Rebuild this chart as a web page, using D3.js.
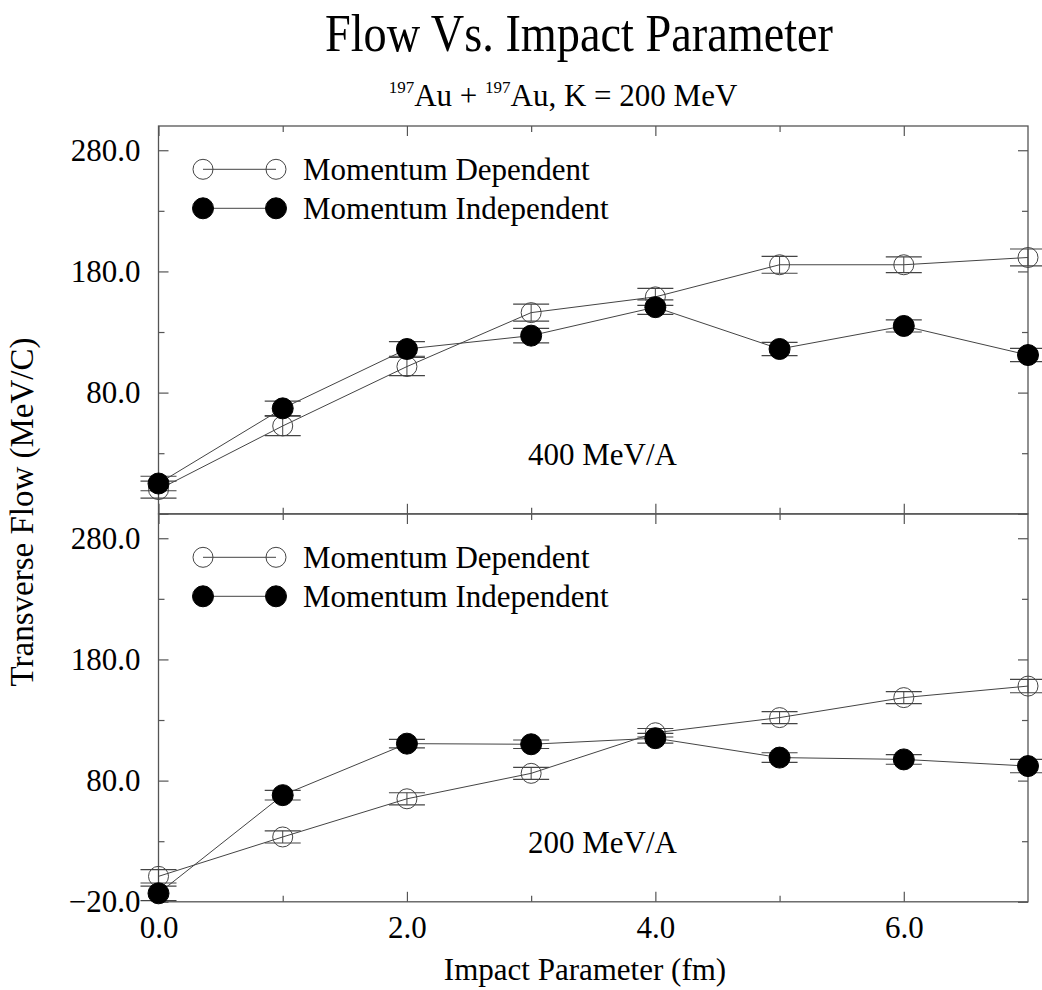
<!DOCTYPE html>
<html>
<head>
<meta charset="utf-8">
<script src="https://cdn.jsdelivr.net/npm/d3@7"></script>
<style>
  html, body { margin: 0; padding: 0; background: #fff; }
  svg { display: block; font-family: "Liberation Serif", "Times New Roman", serif; }
</style>
</head>
<body>
<svg id="chart" width="1042" height="990"></svg>
<script>
// Impact parameter b (fm)
const impactParam = [0, 1, 2, 3, 4, 5, 6, 7];

// 400 MeV/A transverse flow (MeV/c) and its uncertainty
const flow400Dep      = [0, 52.5, 101.5, 146, 159, 185.5, 185.5, 191.5];
const flow400DepErr   = [7, 8, 7.5, 7, 7, 7, 6.5, 7];
const flow400Indep    = [5, 67, 116, 127, 150.5, 116, 135, 111];
const flow400IndepErr = [6, 6, 6, 6, 6, 5.5, 5, 5.5];

// 200 MeV/A transverse flow (MeV/c) and its uncertainty
const flow200Dep      = [1, 33.5, 65, 86, 119.5, 132, 148.5, 158];
const flow200DepErr   = [5.5, 5, 5, 5, 3.5, 5, 5, 5.5];
const flow200Indep    = [-13, 68, 110.5, 110, 115, 99, 97.5, 92];
const flow200IndepErr = [6, 4, 3.5, 3.5, 4, 4, 4, 5.5];

const seriesNames = ["Momentum Dependent", "Momentum Independent"];
const panelLabels = ["400 MeV/A", "200 MeV/A"];

const xMajorTicks = [0, 2, 4, 6];
const xMinorTicks = [1, 3, 5];
const yMajorTicks = [-20, 80, 180, 280];
const yMinorTicks = [30, 130, 230];

const titleText = "Flow Vs. Impact Parameter";
const xTitle = "Impact Parameter (fm)";
const yTitle = "Transverse Flow (MeV/C)";

// ---- layout ----
const svg = d3.select("#chart");
const left = 158.5, right = 1028;
const panelTops = [126, 514];
const panelH = 387.8;
const axisColor = "#555";
const lineColor = "#444";

const x = d3.scaleLinear().domain([0, 7]).range([left, right]);

const panels = [
  { label: panelLabels[0], dep: flow400Dep, depErr: flow400DepErr, ind: flow400Indep, indErr: flow400IndepErr, showMin: false },
  { label: panelLabels[1], dep: flow200Dep, depErr: flow200DepErr, ind: flow200Indep, indErr: flow200IndepErr, showMin: true }
];

const fmt = d3.format(".1f");

panels.forEach((p, i) => {
  const top = panelTops[i];
  const y = d3.scaleLinear().domain([-20, 300]).range([top + panelH, top]);
  const g = svg.append("g");

  // frame
  g.append("rect")
    .attr("x", left).attr("y", top)
    .attr("width", right - left).attr("height", panelH)
    .attr("fill", "none").attr("stroke", axisColor).attr("stroke-width", 1.3);

  const labelled = p.showMin ? yMajorTicks : yMajorTicks.filter(v => v !== -20);

  // inward ticks on all four sides
  const addAxis = (axis, tr) => {
    const a = g.append("g").attr("transform", tr).call(axis);
    a.select(".domain").remove();
    a.selectAll("line").attr("stroke", axisColor).attr("stroke-width", 1.2);
    a.selectAll("text").attr("fill", "#000").style("font-size", "31px").style("font-family", "Liberation Serif");
    return a;
  };
  addAxis(d3.axisLeft(y).tickValues(yMajorTicks).tickSize(-10).tickPadding(18)
          .tickFormat(v => labelled.includes(v) ? fmt(v) : ""), `translate(${left},0)`);
  addAxis(d3.axisLeft(y).tickValues(yMinorTicks).tickSize(-6).tickFormat(""), `translate(${left},0)`);
  addAxis(d3.axisRight(y).tickValues(yMajorTicks).tickSize(-10).tickFormat(""), `translate(${right},0)`);
  addAxis(d3.axisRight(y).tickValues(yMinorTicks).tickSize(-6).tickFormat(""), `translate(${right},0)`);
  addAxis(d3.axisTop(x).tickValues(xMajorTicks).tickSize(-10).tickFormat(""), `translate(0,${top})`);
  addAxis(d3.axisTop(x).tickValues(xMinorTicks).tickSize(-6).tickFormat(""), `translate(0,${top})`);
  addAxis(d3.axisBottom(x).tickValues(xMajorTicks).tickSize(-10).tickPadding(14)
          .tickFormat(p.showMin ? fmt : ""), `translate(0,${top + panelH})`);
  addAxis(d3.axisBottom(x).tickValues(xMinorTicks).tickSize(-6).tickFormat(""), `translate(0,${top + panelH})`);

  const series = [
    { vals: p.dep, errs: p.depErr, filled: false },
    { vals: p.ind, errs: p.indErr, filled: true }
  ];

  series.forEach(s => {
    const pts = impactParam.map((b, k) => ({ b, v: s.vals[k], e: s.errs[k] }));
    const line = d3.line().x(d => x(d.b)).y(d => y(d.v));
    g.append("path").datum(pts)
      .attr("d", line).attr("fill", "none")
      .attr("stroke", lineColor).attr("stroke-width", 1);

    const eb = g.append("g").selectAll("g").data(pts).join("g");
    eb.append("line")
      .attr("x1", d => x(d.b)).attr("x2", d => x(d.b))
      .attr("y1", d => y(d.v - d.e)).attr("y2", d => y(d.v + d.e))
      .attr("stroke", lineColor).attr("stroke-width", 1);
    [-1, 1].forEach(sg => {
      eb.append("line")
        .attr("x1", d => x(d.b) - 18).attr("x2", d => x(d.b) + 18)
        .attr("y1", d => y(d.v + sg * d.e)).attr("y2", d => y(d.v + sg * d.e))
        .attr("stroke", lineColor).attr("stroke-width", 1.2);
    });

    g.append("g").selectAll("circle").data(pts).join("circle")
      .attr("cx", d => x(d.b)).attr("cy", d => y(d.v))
      .attr("r", s.filled ? 10.5 : 10)
      .attr("fill", s.filled ? "#000" : "none")
      .attr("stroke", s.filled ? "#000" : lineColor)
      .attr("stroke-width", 1);
  });

  // legend
  const lg = g.append("g");
  seriesNames.forEach((name, k) => {
    const ly = top + 43.3 + k * 39;
    lg.append("line").attr("x1", 203).attr("x2", 276).attr("y1", ly).attr("y2", ly)
      .attr("stroke", lineColor).attr("stroke-width", 1);
    [203, 276].forEach(cx => {
      lg.append("circle").attr("cx", cx).attr("cy", ly)
        .attr("r", k ? 10.5 : 10)
        .attr("fill", k ? "#000" : "none")
        .attr("stroke", k ? "#000" : lineColor).attr("stroke-width", 1);
    });
    lg.append("text").attr("x", 303).attr("y", ly + 11)
      .style("font-size", "31px").text(name);
  });

  // panel energy label
  g.append("text").attr("x", 528).attr("y", top + 339)
    .style("font-size", "31px").text(p.label);
});

// titles
svg.append("text").attr("x", 579).attr("y", 51)
  .attr("text-anchor", "middle").style("font-size", "53px")
  .attr("textLength", 508).attr("lengthAdjust", "spacingAndGlyphs")
  .text(titleText);

const sub = svg.append("text").attr("x", 563).attr("y", 106)
  .attr("text-anchor", "middle").style("font-size", "31px");
sub.append("tspan").attr("dy", "-13").style("font-size", "17px").text("197");
sub.append("tspan").attr("dy", "13").text("Au + ");
sub.append("tspan").attr("dy", "-13").style("font-size", "17px").text("197");
sub.append("tspan").attr("dy", "13").text("Au, K = 200 MeV");

svg.append("text").attr("x", 585).attr("y", 980)
  .attr("text-anchor", "middle").style("font-size", "31px").text(xTitle);

svg.append("text")
  .attr("transform", `translate(33,512) rotate(-90)`)
  .attr("text-anchor", "middle").style("font-size", "33px").text(yTitle);
</script>
</body>
</html>
